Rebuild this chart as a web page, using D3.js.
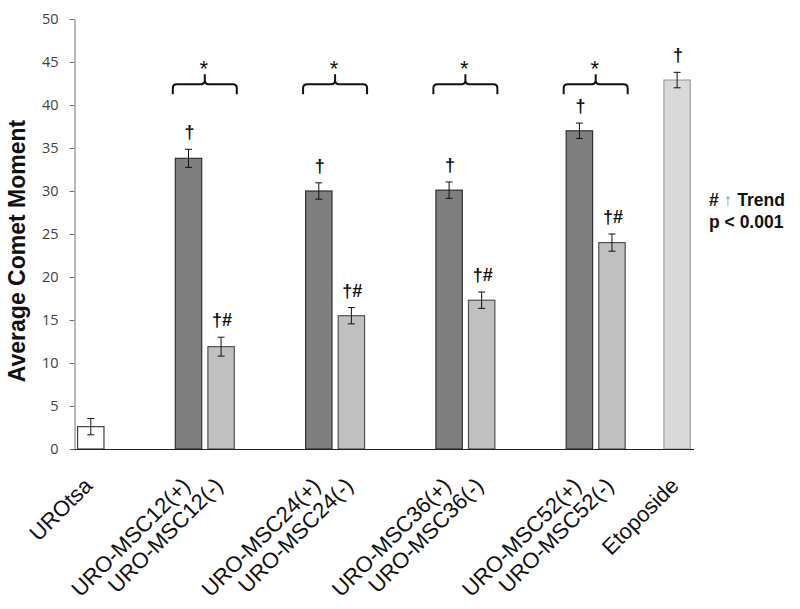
<!DOCTYPE html>
<html>
<head>
<meta charset="utf-8">
<script src="https://cdn.jsdelivr.net/npm/d3@7"></script>
<style>
  html, body { margin: 0; padding: 0; background: #fff; }
  svg { display: block; }
</style>
</head>
<body>
<svg id="chart" width="800" height="609"></svg>
<script>
// ---- data ----
const categories = ["UROtsa", "URO-MSC12(+)", "URO-MSC12(-)", "URO-MSC24(+)", "URO-MSC24(-)",
                    "URO-MSC36(+)", "URO-MSC36(-)", "URO-MSC52(+)", "URO-MSC52(-)", "Etoposide"];
const values = [2.6, 33.8, 11.9, 30.0, 15.5, 30.1, 17.3, 37.0, 24.0, 42.9];
const errors = [0.95, 1.05, 1.1, 0.95, 0.95, 0.95, 0.95, 0.9, 1.0, 0.9];
const marks = ["", "†", "†#", "†", "†#", "†", "†#", "†", "†#", "†"];
const groups = ["control", "plus", "minus", "plus", "minus", "plus", "minus", "plus", "minus", "etoposide"];
const pairs = [["URO-MSC12(+)", "URO-MSC12(-)"], ["URO-MSC24(+)", "URO-MSC24(-)"],
               ["URO-MSC36(+)", "URO-MSC36(-)"], ["URO-MSC52(+)", "URO-MSC52(-)"]];
const yTicks = [0, 5, 10, 15, 20, 25, 30, 35, 40, 45, 50];
const yTitle = "Average Comet Moment";
const noteLine1 = ["# ", "↑", " Trend"];
const noteLine2 = "p < 0.001";

// ---- layout ----
const gapsBefore = [0, 2, 0, 2, 0, 2, 0, 2, 0, 1];
const slots = [];
categories.forEach((c, i) => {
  for (let g = 0; g < gapsBefore[i]; g++) slots.push("__gap" + i + "_" + g);
  slots.push(c);
});

const svg = d3.select("#chart");
const x0 = 74.5, x1 = 694, yTop = 19, yBot = 449;

const x = d3.scaleBand().domain(slots).range([x0, 693.4]).paddingInner(0.19).paddingOuter(0.095);
const y = d3.scaleLinear().domain([0, 50]).range([yBot, yTop]);

const fills = { control: "#ffffff", plus: "#7f7f7f", minus: "#c0c0c0", etoposide: "#d9d9d9" };
const strokes = { control: "#404040", plus: "#303030", minus: "#505050", etoposide: "#a0a0a0" };

const data = categories.map((c, i) => ({ c, v: values[i], e: errors[i], m: marks[i], g: groups[i] }));

// y axis
const yAxis = d3.axisLeft(y).tickValues(yTicks).tickSize(5).tickPadding(11).tickSizeOuter(0);
const gy = svg.append("g").attr("transform", `translate(${x0},0)`).call(yAxis);
gy.select(".domain").attr("stroke", "#707070");
gy.selectAll(".tick line").attr("stroke", "#707070");
gy.selectAll(".tick text").attr("fill", "#404040")
  .style("font-family", "'Open Sans', sans-serif").style("font-size", "14.5px");

// bars
svg.append("g").selectAll("rect").data(data).join("rect")
  .attr("x", d => x(d.c))
  .attr("width", x.bandwidth())
  .attr("y", d => y(d.v))
  .attr("height", d => y(0) - y(d.v))
  .attr("fill", d => fills[d.g])
  .attr("stroke", d => strokes[d.g])
  .attr("stroke-width", 1.2);

// error bars
const eb = svg.append("g").attr("stroke", "#111").attr("stroke-width", 1);
data.forEach(d => {
  const cx = x(d.c) + x.bandwidth() / 2;
  eb.append("line").attr("x1", cx).attr("x2", cx).attr("y1", y(d.v + d.e)).attr("y2", y(d.v - d.e));
  eb.append("line").attr("x1", cx - 3.5).attr("x2", cx + 3.5).attr("y1", y(d.v + d.e)).attr("y2", y(d.v + d.e));
  eb.append("line").attr("x1", cx - 3.5).attr("x2", cx + 3.5).attr("y1", y(d.v - d.e)).attr("y2", y(d.v - d.e));
});

// x axis line
svg.append("line").attr("x1", x0).attr("x2", x1).attr("y1", yBot + 0.5).attr("y2", yBot + 0.5)
  .attr("stroke", "#222").attr("stroke-width", 1.2);

// significance marks
svg.append("g").selectAll("text").data(data.filter(d => d.m)).join("text")
  .attr("x", d => x(d.c) + x.bandwidth() / 2 + 1)
  .attr("y", d => y(d.v + d.e) - 11)
  .attr("text-anchor", "middle")
  .style("font-family", "'Liberation Sans', Arial, sans-serif")
  .style("font-size", "18px").style("font-weight", "bold")
  .attr("fill", "#111")
  .text(d => d.m);

// braces
const braceY = y(42.4);
pairs.forEach(p => {
  const a = x(p[0]) + x.bandwidth() / 2, b = x(p[1]) + x.bandwidth() / 2;
  const mid = (a + b) / 2;
  const L = mid - 32, R = mid + 32, r = 4;
  const path = `M${L},${braceY + 10} L${L},${braceY + r} Q${L},${braceY} ${L + r},${braceY} ` +
    `L${mid - r},${braceY} Q${mid},${braceY} ${mid},${braceY - r} L${mid},${braceY - 10} ` +
    `M${mid},${braceY - r} Q${mid},${braceY} ${mid + r},${braceY} L${R - r},${braceY} ` +
    `Q${R},${braceY} ${R},${braceY + r} L${R},${braceY + 10}`;
  svg.append("path").attr("d", path).attr("fill", "none").attr("stroke", "#111").attr("stroke-width", 2);
  svg.append("text").attr("x", mid - 1).attr("y", braceY - 8)
    .attr("text-anchor", "middle")
    .style("font-family", "'Liberation Sans', Arial, sans-serif").style("font-size", "22px")
    .attr("fill", "#111").text("*");
});

// category labels (rotated 45 degrees, anchored at their end)
svg.append("g").selectAll("text").data(data).join("text")
  .attr("transform", d => `translate(${x(d.c) + x.bandwidth() / 2 + 3},${yBot + 38}) rotate(-45)`)
  .attr("text-anchor", "end")
  .style("font-family", "'Liberation Sans', Arial, sans-serif")
  .style("font-size", "22px")
  .attr("fill", "#111")
  .text(d => d.c);

// y title
svg.append("text")
  .attr("transform", `translate(25,${(yTop + yBot) / 2 + 17}) rotate(-90)`)
  .attr("text-anchor", "middle")
  .style("font-family", "'Liberation Sans', Arial, sans-serif")
  .style("font-size", "23px").style("font-weight", "bold")
  .attr("fill", "#111")
  .text(yTitle);

// note
const note = svg.append("g").style("font-family", "'Liberation Sans', Arial, sans-serif")
  .style("font-size", "17.5px").style("font-weight", "bold").attr("fill", "#111");
const t1 = note.append("text").attr("x", 709).attr("y", 205.5);
t1.append("tspan").text(noteLine1[0]);
t1.append("tspan").attr("fill", "#999").style("font-weight", "normal").text(noteLine1[1]);
t1.append("tspan").text(noteLine1[2]);
note.append("text").attr("x", 709).attr("y", 228).text(noteLine2);
</script>
</body>
</html>
